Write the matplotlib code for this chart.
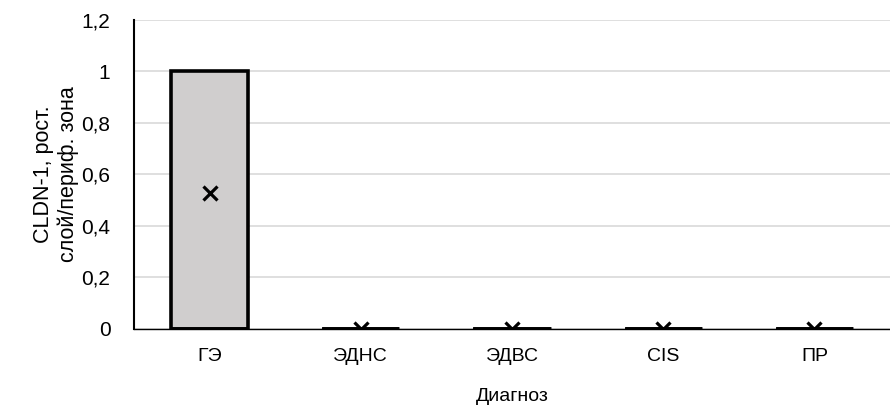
import numpy as np
import matplotlib.pyplot as plt

plt.rcParams['font.family'] = ['Liberation Sans', 'DejaVu Sans']

# данные диаграммы размаха
categories = ['ГЭ', 'ЭДНС', 'ЭДВС', 'CIS', 'ПР']
q1 = [0, 0, 0, 0, 0]
q3 = [1, 0, 0, 0, 0]
medians = [0, 0, 0, 0, 0]
means = [0.53, 0, 0, 0, 0]
whis_lo = [0, 0, 0, 0, 0]
whis_hi = [1, 0, 0, 0, 0]
yticks = [0, 0.2, 0.4, 0.6, 0.8, 1, 1.2]
ytick_labels = ['0', '0,2', '0,4', '0,6', '0,8', '1', '1,2']

stats = []
for i in range(len(categories)):
    stats.append(dict(label=categories[i], q1=q1[i], q3=q3[i], med=medians[i],
                      mean=means[i], whislo=whis_lo[i], whishi=whis_hi[i], fliers=[]))

fig = plt.figure(figsize=(8.9, 4.12), dpi=100)
ax = fig.add_axes([0.1506, 0.2015, 0.8494, 0.75])

ax.set_ylim(0, 1.2)
ax.set_xlim(0.5, 5.5)
ax.set_yticks(yticks)
ax.set_yticklabels(ytick_labels)
ax.grid(axis='y', color='#d9d9d9', linewidth=1.2)
ax.set_axisbelow(True)

ax.bxp(stats, positions=np.arange(1, len(categories) + 1), widths=0.51,
       patch_artist=True, showmeans=True, showcaps=False,
       boxprops=dict(facecolor='#d0cece', edgecolor='black', linewidth=2.6),
       whiskerprops=dict(color='black', linewidth=2.6),
       medianprops=dict(color='black', linewidth=3.4),
       meanprops=dict(marker='x', markeredgecolor='black', markersize=10, markeredgewidth=2.3))

for s in ['top', 'right']:
    ax.spines[s].set_visible(False)
ax.spines['left'].set_linewidth(1.5)
ax.spines['bottom'].set_linewidth(1.0)
ax.tick_params(axis='y', length=0, labelsize=15, pad=17)
ax.tick_params(axis='x', length=0, labelsize=14, pad=14)

ax.set_xlabel('Диагноз', fontsize=14, labelpad=16)
ax.set_ylabel('CLDN-1, рост.\nслой/периф. зона', fontsize=15.5, va='center')
ax.yaxis.set_label_coords(-0.103, 0.5)

fig.savefig('out.png', dpi=100)
